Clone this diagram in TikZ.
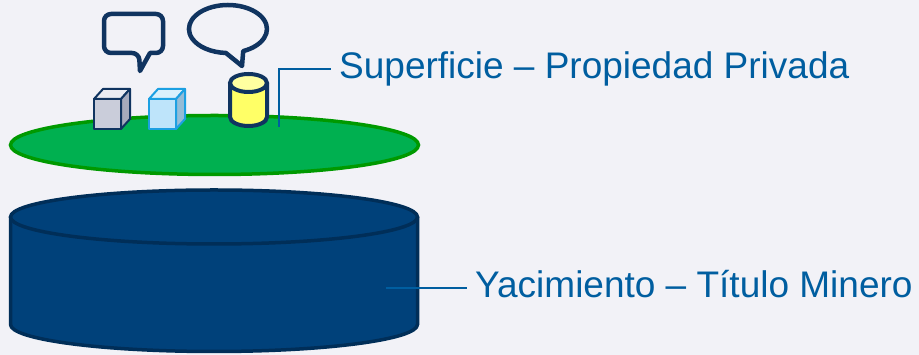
\documentclass[tikz,border=0pt]{standalone}
\usepackage{fontspec}
\setmainfont{Liberation Sans}
\definecolor{bgpaper}{RGB}{242,242,247}
\definecolor{txtblue}{RGB}{0,94,160}
\definecolor{navy}{RGB}{16,52,96}
\definecolor{minefill}{RGB}{0,65,122}
\definecolor{mineedge}{RGB}{0,46,88}
\definecolor{landfill}{RGB}{0,176,80}
\definecolor{landedge}{RGB}{0,153,0}
\definecolor{greyfront}{RGB}{202,205,218}
\definecolor{greytop}{RGB}{234,235,241}
\definecolor{greyside}{RGB}{166,170,188}
\definecolor{skyfront}{RGB}{190,228,250}
\definecolor{skytop}{RGB}{218,241,252}
\definecolor{skyside}{RGB}{148,188,214}
\definecolor{skyedge}{RGB}{28,160,226}
\definecolor{canfill}{RGB}{255,255,102}
\definecolor{cantop}{RGB}{255,255,160}
\tikzset{
  lbl/.style={anchor=west, inner sep=8pt, text=txtblue, font=\fontsize{37}{40}\selectfont,
    text height=27pt, text depth=8pt},
  pin/.style={draw=txtblue, line width=1.4pt},
}
\begin{document}
\begin{tikzpicture}[x=1pt, y=1pt]
\fill[bgpaper] (0,0) rectangle (919,355);
\useasboundingbox (0,0) rectangle (919,355);
% yacimiento
\draw[fill=minefill, draw=mineedge, line width=3.5pt] (10.5,138) -- (10.5,30.5)
  arc (180:360:203.5 and 27) -- (417.5,138);
\draw[fill=minefill, draw=mineedge, line width=3.5pt] (214,138) ellipse (203.5 and 27);
% superficie
\draw[fill=landfill, draw=landedge, line width=3.5pt] (214.5,210) ellipse (204 and 29.5);
% cubes
\draw[fill=greyfront, draw=navy, line width=2pt, line join=round]
  (94,226) rectangle (121,256);
\draw[fill=greytop, draw=navy, line width=2pt, line join=round]
  (94,256) -- (103,266) -- (130,266) -- (121,256) -- cycle;
\draw[fill=greyside, draw=navy, line width=2pt, line join=round]
  (121,226) -- (130,236) -- (130,266) -- (121,256) -- cycle;
\draw[fill=skyfront, draw=skyedge, line width=2pt, line join=round]
  (149,226) rectangle (176,256);
\draw[fill=skytop, draw=skyedge, line width=2pt, line join=round]
  (149,256) -- (158,266) -- (185,266) -- (176,256) -- cycle;
\draw[fill=skyside, draw=skyedge, line width=2pt, line join=round]
  (176,226) -- (185,236) -- (185,266) -- (176,256) -- cycle;
% can
\draw[fill=canfill, draw=navy, line width=4pt] (230,272) -- (230,238)
  arc (180:360:18.5 and 9) -- (267,272);
\draw[fill=cantop, draw=navy, line width=4pt] (248.5,272) ellipse (18.5 and 9);
% speech bubbles
\draw[navy, line width=4.5pt, line join=round] (150,302) [rounded corners=7pt] -- (163,302)
  -- (163,341) -- (104,341) -- (104,302) -- (139,302) [sharp corners] -- (140,284) -- cycle;
\draw[navy, line width=4.5pt, line join=round] (243.2,303.9)
  arc (-67:267:39 and 24) -- (242,289) -- cycle;
% labels
\coordinate (landPin) at (279,228);
\coordinate (minePin) at (386,67);
\node[lbl] (landLabel) at (331,286) {Superficie – Propiedad Privada};
\node[lbl] (mineLabel) at (467,67) {Yacimiento – Título Minero};
\draw[pin] (landPin) |- (landLabel.west);
\draw[pin] (minePin) -- (mineLabel.west);
\end{tikzpicture}
\end{document}
